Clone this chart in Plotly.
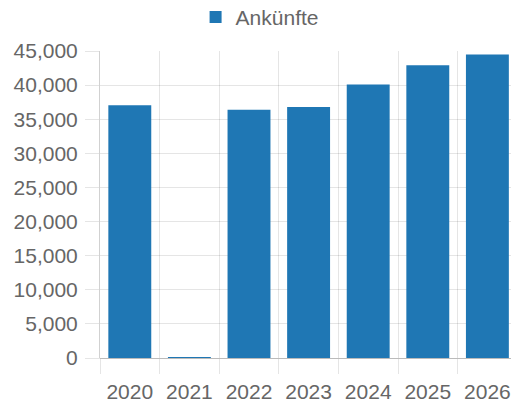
import plotly.graph_objects as go

years = ["2020", "2021", "2022", "2023", "2024", "2025", "2026"]
arrivals = [37050, 60, 36400, 36800, 40100, 42900, 44500]
series_name = "Ankünfte"

idx = list(range(len(years)))
grid = "rgba(0,0,0,0.1)"
txt = "#666666"
font = "Liberation Sans, Arial, sans-serif"

fig = go.Figure()
fig.add_trace(go.Bar(
    x=idx, y=arrivals, name=series_name, width=0.72,
    marker=dict(color="#1f77b4", line=dict(width=0)),
    showlegend=True,
))

fig.update_layout(
    width=511, height=404,
    margin=dict(l=100, r=0, t=51, b=46),
    paper_bgcolor="white", plot_bgcolor="white",
    font=dict(family=font, size=21, color=txt),
    showlegend=True,
    legend=dict(orientation="h", xref="container", yref="container",
                x=0.508, xanchor="center", y=0.957, yanchor="middle",
                font=dict(size=21, color=txt), itemwidth=30),
    xaxis=dict(
        type="linear", range=[-0.5, 6.396],
        tickmode="array", tickvals=idx, ticktext=years,
        showgrid=False, ticks="", ticklabelstandoff=15,
        showline=True, linecolor=grid, linewidth=1,
        zeroline=False,
        minor=dict(tick0=-0.5, dtick=1, showgrid=True, gridcolor=grid, gridwidth=1,
                   ticks="outside", ticklen=15, tickcolor=grid, tickwidth=1),
        tickfont=dict(size=21, color=txt),
    ),
    yaxis=dict(
        range=[0, 45000], dtick=5000, tickformat=",",
        showgrid=True, gridcolor=grid, gridwidth=1,
        ticks="outside", ticklen=14, tickcolor=grid, tickwidth=1,
        showline=True, linecolor="rgba(0,0,0,0.18)", linewidth=1,
        zeroline=True, zerolinecolor="rgba(0,0,0,0.18)", zerolinewidth=1,
        ticklabelstandoff=3,
        tickfont=dict(size=21, color=txt),
    ),
)

fig.write_html(
    "out.html",
    config={"displayModeBar": False},
    post_script="document.body.style.margin='0';document.body.style.overflow='hidden';",
)
